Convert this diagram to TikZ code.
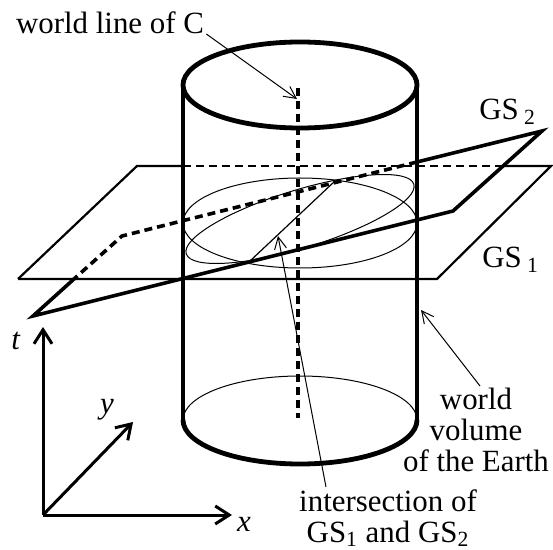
\documentclass[tikz,border=0pt]{standalone}
\usepackage{fontspec}
\setmainfont{Liberation Serif}
\usetikzlibrary{arrows.meta}

\begin{document}
\begin{tikzpicture}[x=0.5bp, y=-0.5bp,
	lbl/.style={font=\fontsize{15.5}{15.5}\selectfont, inner sep=1bp},
	cyl/.style={line width=2.4bp},
	gsone/.style={line width=1.1bp},
	gstwo/.style={line width=1.8bp},
	hid/.style={dash pattern=on 4bp off 2.5bp},
	thinline/.style={line width=0.5bp},
	pointer/.style={line width=0.5bp, -{Straight Barb[length=6bp, width=6bp]}},
	axis/.style={line width=1.5bp, -{Straight Barb[length=7bp, width=9bp, line width=1.5bp]}}]
		\useasboundingbox (0,0) rectangle (553,550);

		% cylinder
		\draw[cyl] (300,85) ellipse [x radius=117, y radius=43];
		\draw[cyl] (183,85) -- (183,420);
		\draw[cyl] (417,85) -- (417,420);
		\draw[cyl] (183,420) arc[start angle=180, end angle=0, x radius=117, y radius=44];
		\draw[thinline] (183,420) arc[start angle=180, end angle=360, x radius=117, y radius=44];
		\draw[line width=1.6bp, hid] (298,88) -- (298,418);

		% sections of the two planes
		\draw[thinline] (300,223) ellipse [x radius=117, y radius=45];
		\draw[thinline, rotate around={17:(300,219)}] (300,219) ellipse [x radius=119, y radius=29];
		\draw[line width=0.6bp] (250,261) -- (335,181);

		% GS1
		\coordinate (P1) at (18,279);
		\coordinate (P2) at (437,279);
		\coordinate (P3) at (551,166);
		\coordinate (P4) at (137,166);
		\draw[gsone] (P1) -- (P2) -- (P3) -- (503,166);
		\draw[gsone, hid] (503,166) -- (183,166);
		\draw[gsone] (183,166) -- (P4) -- (P1);

		% GS2
		\coordinate (Q1) at (33,316);
		\coordinate (Q2) at (453,211);
		\coordinate (Q3) at (542,131);
		\coordinate (Q4) at (122,236);
		\draw[gstwo] (74,279) -- (Q1) -- (Q2) -- (Q3) -- (417,162);
		\draw[gstwo, hid] (417,162) -- (Q4) -- (74,279);

		% labels
		\node[lbl, anchor=base] (wlC) at (110,34) {world line of C};
		\coordinate (wlhead) at (297,99);
		\draw[pointer] (wlC.base east) -- (wlhead);

		\node[lbl, anchor=base west] (gstwo) at (477,120) {GS\,\textsubscript{2}};
		\node[lbl, anchor=base west] (gsone) at (480,268) {GS\,\textsubscript{1}};

		\node[lbl, anchor=north, align=center] (wvE) at (476,386) {world\\volume\\of the Earth};
		\coordinate (wvhead) at (421,310);
		\draw[pointer] ([xshift=2bp]wvE.north) -- (wvhead);

		\node[lbl, anchor=north, align=center] (isect) at (388,487) {intersection of\\GS\textsubscript{1} and GS\textsubscript{2}};
		\coordinate (ishead) at (278,236);
		\draw[pointer] ([xshift=-31bp]isect.north) -- (ishead);

		% axes
		\coordinate (O) at (43,515);
		\coordinate (tend) at (43,327);
		\coordinate (xend) at (232,515);
		\coordinate (yend) at (133,422);
		\draw[axis] (O) -- (tend);
		\draw[axis] (O) -- (xend);
		\draw[axis] (O) -- (yend);
		\node[lbl] (tlab) at (16,341) {\textit{t}};
		\node[lbl] (xlab) at (244,524) {\textit{x}};
		\node[lbl] (ylab) at (107,410) {\textit{y}};

	\end{tikzpicture}
\end{document}
